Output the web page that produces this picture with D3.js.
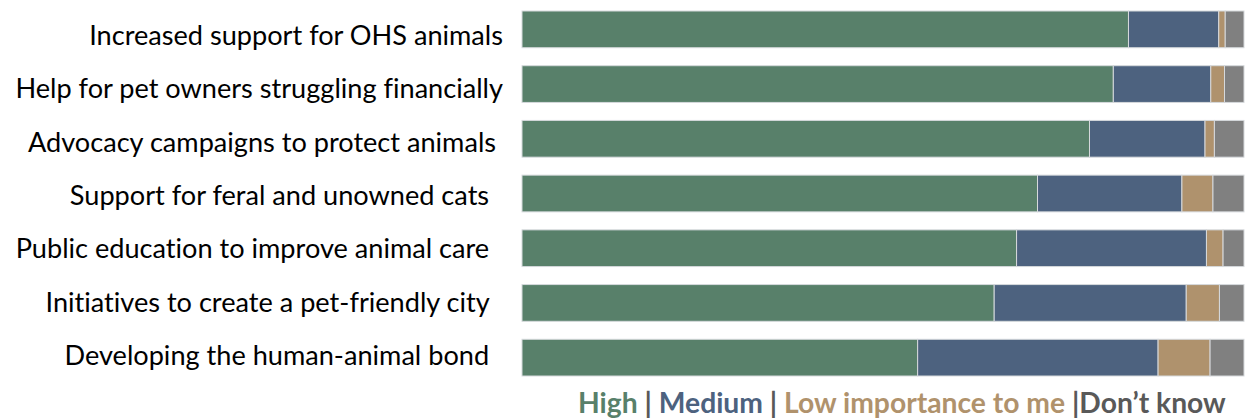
<!DOCTYPE html>
<html>
<head>
<meta charset="utf-8">
<script src="https://cdn.jsdelivr.net/npm/d3@7"></script>
<style>
  html, body { margin: 0; padding: 0; background: #ffffff; }
  svg { display: block; }
  text { white-space: pre; font-variant-ligatures: none; }
</style>
</head>
<body>
<svg id="chart" width="1246" height="419"></svg>
<script>
// ---- Data ----
const categories = [
  "Increased support for OHS animals",
  "Help for pet owners struggling financially",
  "Advocacy campaigns to protect animals ",
  "Support for feral and unowned cats  ",
  "Public education to improve animal care  ",
  "Initiatives to create a pet-friendly city  ",
  "Developing the human-animal bond  "
];
const seriesNames = ["High", "Medium", "Low importance to me", "Don\u2019t know"];
const high   = [84.0, 81.9, 78.6, 71.4, 68.5, 65.4, 54.8];
const medium = [12.5, 13.5, 16.0, 20.0, 26.3, 26.6, 33.3];
const low    = [0.9, 1.9, 1.3, 4.3, 2.3, 4.6, 7.2];
const dontKnow = [2.6, 2.7, 4.1, 4.3, 2.9, 3.4, 4.7];

// ---- Styles ----
const colors = ["#58806a", "#4d627f", "#af926d", "#808080"];
const legendTextColors = ["#58806a", "#4d627f", "#b0926c", "#595959"];
const sepColor = "#595959";
const fontFamily = "Lato, 'Open Sans', 'Noto Sans', sans-serif";

const svg = d3.select("#chart");

const rows = categories.map((c, i) => ({
  cat: c,
  High: high[i], Medium: medium[i],
  "Low importance to me": low[i], "Don\u2019t know": dontKnow[i]
}));

const stack = d3.stack().keys(seriesNames);
const stacked = stack(rows);

const x = d3.scaleLinear().domain([0, 100]).range([522, 1244]);
const y = d3.scaleBand().domain(categories).range([2, 385])
  .paddingInner(0.329).paddingOuter(0.1645);
const yLabel = d3.scalePoint().domain(categories).range([45, 365]);

// bars
svg.append("g").selectAll("g")
  .data(stacked)
  .join("g")
  .attr("fill", (d, i) => colors[i])
  .selectAll("rect")
  .data(d => d)
  .join("rect")
  .attr("x", d => x(d[0]))
  .attr("y", d => y(d.data.cat))
  .attr("width", d => x(d[1]) - x(d[0]))
  .attr("height", y.bandwidth())
  .attr("stroke", "#d6d9dc")
  .attr("stroke-width", 1);

// category labels
const labels = svg.append("g")
  .selectAll("text")
  .data(categories)
  .join("text")
  .attr("x", 503)
  .attr("y", d => yLabel(d))
  .attr("text-anchor", "end")
  .attr("font-family", fontFamily)
  .attr("font-size", 24)
  .attr("fill", "#000000")
  .attr("xml:space", "preserve")
  .text(d => d);

// fit label font size so longest label spans the reference width (~488px)
const probe = labels.filter((d, i) => i === 1).node();
const w = probe.getComputedTextLength();
const fs = 24 * 488 / w;
labels.attr("font-size", fs);

// legend
const legend = svg.append("text")
  .attr("x", 578)
  .attr("y", 413)
  .attr("font-family", fontFamily)
  .attr("font-weight", "bold")
  .attr("font-size", 24)
  .attr("xml:space", "preserve");

const parts = [
  {t: seriesNames[0], c: legendTextColors[0]},
  {t: " | ", c: sepColor},
  {t: seriesNames[1], c: legendTextColors[1]},
  {t: " | ", c: sepColor},
  {t: seriesNames[2], c: legendTextColors[2]},
  {t: " |", c: sepColor},
  {t: seriesNames[3], c: legendTextColors[3]}
];
legend.selectAll("tspan").data(parts).join("tspan")
  .attr("fill", d => d.c)
  .text(d => d.t);

const lw = legend.node().getComputedTextLength();
legend.attr("font-size", 24 * 648 / lw);
</script>
</body>
</html>
